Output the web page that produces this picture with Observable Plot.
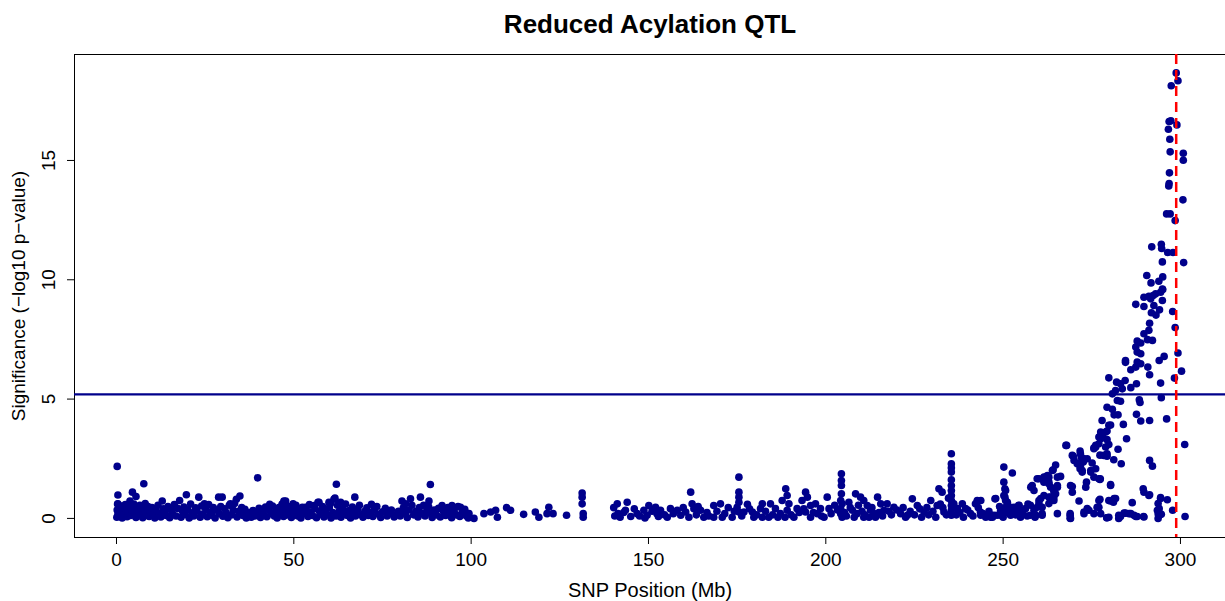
<!DOCTYPE html>
<html><head><meta charset="utf-8">
<script src="https://cdn.jsdelivr.net/npm/d3@7"></script>
<script src="https://cdn.jsdelivr.net/npm/@observablehq/plot@0.6"></script>
<style>body{margin:0;background:#fff;font-family:"Liberation Sans",Arial,sans-serif}</style>
</head><body><div id="chart"></div>
<script>
const title = "Reduced Acylation QTL";
const xLabel = "SNP Position (Mb)";
const yLabel = "Significance (\u2212log10 p\u2212value)";
const xTicks = [0, 50, 100, 150, 200, 250, 300];
const yTicks = [0, 5, 10, 15];
const threshold = 5.2;
const qtlPos = 298.8;

// [position (Mb), -log10 p]
const snpsA = [
[0.2,2.18],[0.4,0.98],[0.4,0.61],[4.5,1.10],[5.5,0.92],[7.7,1.45],[3.8,0.73],[12.9,0.73],[17.8,0.75],[19.7,0.99],[23.2,0.89],[24.8,0.61],[28.8,0.89],[29.8,0.89],[34.8,0.94],[33.8,0.8],[32.1,0.61],[39.8,1.70],[47.7,0.73],[43.2,0.59],[56.8,0.68],[61.3,0.8],[59.9,0.68],[62.0,1.43],[61.6,0.85],[47.2,0.73],[49.8,0.61],[46.7,0.54],[57.1,0.68],[55.7,0.54],[53.3,0.47],[60.3,0.61],[63.2,0.68],[67.2,0.89],[71.9,0.59],
[0.1,0.05],[0.2,0.35],[0.3,0.6],[0.4,0.18],[0.6,0.45],[0.9,0.1],[1.1,0.28],[1.4,0.52],[1.6,0.02],[1.9,0.33],[2.2,0.15],[2.5,0.58],[2.7,0.4],[3.0,0.07],[3.3,0.25],[3.6,0.48],[4.0,0.12],[4.3,0.36],[4.9,0.6],[5.2,0.2],[5.5,0.04],[5.9,0.42],[6.3,0.3],[6.6,0.55],[7.0,0.14],[7.4,0.03],[7.8,0.38],[8.1,0.62],[8.5,0.22],[8.9,0.5],[9.2,0.08],[9.6,0.3],[10.0,0.45],[10.4,0.15],[10.8,0.02],[11.2,0.33],[11.7,0.55],[12.1,0.19],[12.5,0.06],[13.2,0.4],[13.6,0.26],[14.0,0.12],[14.5,0.5],[15.0,0.03],[15.4,0.35],[15.8,0.2],[16.3,0.58],[16.8,0.1],[17.2,0.42],[18.2,0.05],[18.6,0.3],[19.0,0.48],[19.4,0.16],[20.1,0.36],[20.5,0.02],[20.9,0.6],[21.4,0.24],[21.8,0.1],[22.3,0.44],[22.7,0.3],[23.6,0.05],[24.0,0.52],[24.3,0.18],[25.2,0.38],[25.6,0.07],[26.0,0.58],[26.4,0.27],[26.9,0.13],[27.3,0.45],[27.8,0.02],[28.2,0.34],[29.0,0.2],[29.4,0.5],[30.0,0.09],[30.5,0.4],[30.9,0.25],[31.4,0.03],[31.8,0.55],[32.5,0.15],[32.9,0.35],[33.3,0.62],[34.0,0.06],[34.4,0.3],[35.3,0.46],[35.7,0.12],[36.2,0.38],[36.6,0.02],[37.1,0.25],[37.5,0.16],[38.0,0.05],[38.5,0.33],[39.0,0.1],[39.4,0.22],[40.2,0.42],[40.6,0.04],[41.0,0.3],[41.5,0.15],[42.0,0.48],[42.4,0.07],[42.8,0.36],[43.6,0.2],[44.0,0.52],[44.5,0.1],[44.9,0.33],[45.3,0.02],[45.8,0.45],[46.2,0.22],[46.7,0.6],[47.1,0.08],[47.4,0.38],[48.0,0.14],[48.4,0.5],[48.8,0.26],[49.3,0.04],[49.7,0.4],
[50.2,0.18],[50.6,0.55],[51.1,0.1],[51.5,0.32],[52.0,0.02],[52.4,0.47],[52.9,0.2],[53.5,0.36],[54.0,0.08],[54.4,0.58],[54.8,0.28],[55.3,0.12],[56.0,0.42],[56.4,0.03],[57.2,0.3],[57.6,0.18],[58.1,0.5],[58.5,0.06],[59.0,0.35],[59.4,0.15],[60.0,0.45],[60.5,0.02],[61.0,0.25],[61.9,0.1],[62.3,0.55],[62.8,0.3],[63.3,0.05],[63.7,0.4],[64.2,0.2],[64.6,0.6],[65.1,0.12],[65.6,0.33],[66.0,0.02],[66.5,0.48],[67.0,0.22],[67.4,0.1],[68.0,0.38],[68.5,0.55],[69.0,0.15],[69.5,0.05],[70.0,0.3],[70.6,0.44],[71.0,0.12],[71.4,0.25],[72.3,0.08],[72.7,0.35],[73.4,0.5],[73.8,0.18],[74.5,0.04],[75.0,0.28],[75.8,0.42],[76.3,0.1],[77.0,0.2],[77.5,0.35],[78.3,0.06],[78.8,0.15],[79.5,0.3],[80.0,0.1],[80.9,0.45],[81.4,0.22],[82.0,0.04],[82.5,0.35],[83.3,0.55],[83.8,0.15],[84.4,0.3],[85.0,0.06],[85.4,0.45],[86.0,0.2],[86.6,0.55],[87.0,0.1],[87.5,0.33],[88.0,0.5],[88.4,0.22],[89.0,0.04],[89.6,0.35],[90.2,0.15],[90.8,0.42],[91.3,0.06],[92.2,0.3],[92.8,0.12],[93.4,0.45],[94.0,0.2],[94.5,0.03],[95.2,0.32],[95.8,0.15],[96.3,0.5],[96.8,0.08],[97.5,0.25],[98.2,0.38],[98.7,0.1],[99.2,0.02]
];

const snpsB = [
[88.5,1.42],[85.7,0.89],[88.1,0.73],[80.5,0.73],[82.9,0.82],[81.5,0.61],[91.8,0.54],[94.6,0.54],[97.0,0.47],[99.4,0.20],[100.8,0.0],[103.6,0.20],[105.5,0.27],[106.9,0.34],[107.4,0.05],[110.0,0.45],[111.1,0.34],[114.8,0.17],[118.1,0.27],[119.1,0.05],[121.9,0.47],[121.4,0.20],[123.1,0.20],[126.9,0.13],[131.3,1.06],[131.3,0.89],[131.3,0.61],[131.6,0.05],[131.6,0.20],
[140.2,0.45],[141.2,0.61],[144.0,0.68],[143.5,0.34],[141.4,0.20],[146.8,0.20],[148.7,0.34],[150.1,0.54],[149.6,0.13],[152.0,0.47],[152.4,0.20],[153.4,0.34],[156.2,0.41],[158.1,0.34],[160.5,0.27],[161.9,1.10],[162.3,0.61],[162.8,0.41],[161.4,0.05],[159.1,0.13],[164.7,0.34],[165.6,0.05],[168.4,0.54],[170.3,0.61],[168.4,0.05],[170.8,0.05],
[175.5,1.73],[175.5,1.10],[175.5,0.89],[175.5,0.68],[175.0,0.47],[175.5,0.27],[173.6,0.05],[177.9,0.59],[176.9,0.27],[179.3,0.27],[181.6,0.41],[182.1,0.61],[184.4,0.61],[185.8,0.41],[183.9,0.05],[182.1,0.05],[179.7,0.05],[188.7,1.24],[189.1,0.96],[187.7,0.75],[189.6,0.61],[189.1,0.34],[187.2,0.20],[191.9,0.41],[191.0,0.05],[188.5,0.05],[194.3,1.10],[194.8,0.89],[193.3,0.75],[195.7,0.54],[197.1,0.61],[198.5,0.41],[197.6,0.20],[200.4,0.89],[200.9,0.41],[199.5,0.05],[195.7,0.05],[194.3,0.27],
[140.5,0.1],[142.0,0.05],[143.0,0.25],[145.0,0.08],[146.0,0.4],[147.5,0.1],[149.0,0.02],[151.0,0.3],[152.8,0.08],[154.5,0.15],[155.3,0.05],[157.0,0.2],[159.8,0.45],[163.5,0.15],[164.0,0.5],[166.5,0.25],[167.0,0.1],[169.3,0.3],[171.5,0.2],[172.5,0.45],[174.2,0.3],[176.3,0.1],[178.5,0.4],[180.5,0.15],[183.0,0.3],[185.0,0.15],[186.5,0.05],[190.2,0.15],[192.5,0.25],[193.8,0.4],[196.5,0.25],[198.8,0.1]
];

const snpsC = [
[204.4,1.87],[204.4,1.59],[204.4,1.38],[204.4,1.03],[204.2,0.75],[204.6,0.61],[204.2,0.41],[204.2,0.20],[204.6,0.05],[206.5,0.68],[207.5,0.34],[208.4,1.03],[209.8,0.89],[210.7,0.75],[211.7,0.54],[212.6,0.34],[213.6,0.20],[214.6,0.89],[215.5,0.61],[216.4,0.34],[208.0,0.05],[210.7,0.05],[212.2,0.05],[217.3,0.61],[219.2,0.47],[221.1,0.20],[223.0,0.13],[224.4,0.82],[225.8,0.54],[227.7,0.27],[229.6,0.75],[231.4,0.54],[231.9,1.24],[232.8,1.10],[233.3,0.27],
[235.4,2.71],[235.4,2.29],[235.4,2.12],[235.4,1.94],[235.4,1.62],[235.4,1.38],[235.4,1.17],[235.4,0.96],[235.4,0.75],[235.4,0.54],[235.4,0.34],[235.4,0.13],[236.1,0.61],[237.1,0.41],[238.5,0.61],[239.4,0.41],[240.8,0.20],[242.2,0.61],[242.7,0.75],[243.6,0.27],[245.1,0.05],[246.5,0.05],[247.7,0.82],
[250.2,2.15],[250.2,1.52],[250.7,1.17],[250.2,0.96],[250.7,0.75],[251.2,0.47],[251.6,0.27],[252.6,1.90],[252.1,0.47],[253.0,0.27],[254.4,0.54],[254.9,0.05],[248.3,0.13],[249.3,0.34],[250.5,1.24],[250.5,0.89],[251.2,0.68],[250.7,0.47],[251.6,0.34],[250.2,0.20],[252.1,0.13],[253.1,0.47],[254.0,0.34],[254.5,0.55],[254.9,0.20],[247.9,0.83],[243.7,0.75],[243.7,0.13],[245.5,0.13],[247.4,0.13],[249.3,0.13],
[201.5,0.2],[202.5,0.55],[203.3,0.35],[205.3,0.25],[205.8,0.1],[206.9,0.45],[208.8,0.2],[209.2,0.55],[210.2,0.3],[211.0,0.15],[213.0,0.45],[214.0,0.05],[215.0,0.25],[216.0,0.1],[217.8,0.3],[218.5,0.15],[220.0,0.35],[221.8,0.45],[222.5,0.05],[223.8,0.3],[225.0,0.15],[226.5,0.4],[227.0,0.05],[228.5,0.45],[229.0,0.15],[230.2,0.3],[231.0,0.05],[232.3,0.6],[233.0,0.45],[234.0,0.15],[234.6,0.85],[236.8,0.15],[237.8,0.25],[238.8,0.05],[240.0,0.35],[241.5,0.1],[243.0,0.45],[244.3,0.2],[246.0,0.3],[247.0,0.05],[249.0,0.5],[250.0,0.05],[253.5,0.15],[255.5,0.3],[256.8,0.1],[257.0,0.6],[259.0,0.05],
[258.2,1.38],[258.7,1.17],[260.1,1.66],[257.8,1.31],[259.6,1.66],[259.6,0.47],[257.7,0.13],[259.2,0.13],[256.3,0.41],[257.7,0.55],[258.7,0.34]
];

const snpsPeak = [
[298.8,18.67],[299.3,18.34],[297.4,18.13],[296.8,16.63],[297.3,16.66],[299.0,16.49],[296.6,16.31],[297.0,15.89],[297.1,15.36],[300.8,15.30],[300.8,15.01],[296.9,14.48],[296.8,14.03],[296.7,13.93],[300.7,13.35],[296.1,12.76],[297.1,12.76],[298.5,12.48],
[291.9,11.38],[294.6,11.49],[294.7,11.31],[296.4,11.14],[297.9,11.14],[294.9,10.75],[300.9,10.72],[290.5,10.18],[291.7,9.87],[293.9,9.94],[295.0,10.12],[294.9,9.61],[295.0,9.59],[294.4,9.48],[293.0,9.41],[292.3,9.34],[291.1,9.31],[289.7,9.27],[291.6,9.20],[294.9,9.13],[287.4,8.97],[289.7,8.88],[292.5,8.92],[294.1,8.74],[297.8,8.67],[291.8,8.62],[293.1,8.52],[298.5,8.00],[291.3,8.18],[289.7,7.74],[291.1,7.88],[292.1,7.46],[290.7,7.49],[287.8,7.43],[288.8,7.35],[287.4,7.18],[287.8,6.97],[288.8,6.90],[299.3,6.93],[295.4,6.79],[294.0,6.62],[284.5,6.62],[284.5,6.54],[286.0,6.23],[287.4,6.34],[287.8,6.55],[288.8,6.48],[290.8,6.34],[291.3,6.02],[300.3,6.17],[298.3,5.88],
[279.8,5.89],[282.0,5.71],[284.4,5.78],[283.1,5.64],[287.6,5.64],[286.0,5.48],[294.4,5.67],[281.7,5.36],[280.8,5.22],[283.6,5.43],[282.2,4.94],[283.1,4.91],[288.4,4.97],[288.6,4.86],[294.6,5.06],[279.3,4.66],[280.8,4.57],[281.3,4.34],[282.4,4.34],[287.6,4.36],[288.8,4.08],[291.3,4.10],[296.1,4.17],[277.9,4.10],[280.3,3.91],[283.9,3.94],[279.8,3.90],[277.5,3.62],[279.3,3.66],[278.9,3.62],[278.0,3.55],[277.0,3.41],[278.0,3.48],[279.3,3.30],[279.8,3.10],[278.9,2.99],[282.4,2.90],[284.8,3.34],[277.5,3.34],[277.0,3.13],[276.1,3.06],[275.6,2.96],[276.1,2.99],[275.6,2.92],[301.2,3.10],[267.7,3.06],[267.9,3.06],
[271.7,2.82],[271.8,2.71],[269.8,2.60],[269.5,2.64],[272.0,2.57],[272.8,2.50],[277.3,2.65],[278.4,2.64],[279.3,2.61],[279.3,2.71],[281.2,2.46],[283.3,2.29],[291.3,2.43],[292.1,2.19],[270.0,2.43],[271.4,2.32],[272.6,2.36],[273.7,2.50],[275.1,2.32],[270.9,2.29],[271.8,2.15],[272.3,1.94],[271.7,2.08],[272.3,2.01],[274.7,2.01],[276.1,2.08],[264.8,2.24],[264.1,2.04],[263.9,2.01],[265.3,1.73],[266.2,1.76],[262.9,1.73],[261.5,1.73],[262.0,1.73],[262.5,1.80],[274.7,1.94],[275.6,1.73],[277.3,1.63],[277.0,1.66],[277.4,1.66],[273.5,1.52],[273.3,1.31],[269.5,1.34],[269.0,1.38],[269.5,1.10],[280.3,1.42],[280.3,1.38],[289.5,1.24],[289.7,1.10],[291.3,0.99],[291.1,0.96],
[263.4,1.31],[264.3,1.14],[261.5,0.96],[264.8,1.03],[265.3,1.38],[265.3,1.31],[262.9,1.45],[261.5,1.52],[262.9,1.52],[264.3,0.87],[263.4,0.89],[262.9,0.89],[264.3,0.75],[271.4,0.73],[277.3,0.80],[277.0,0.75],[280.3,0.73],[281.7,0.83],[281.3,0.83],[281.1,0.68],[279.8,0.75],[286.4,0.66],[294.4,0.83],[294.4,0.87],[296.3,0.78],[293.7,0.62],[273.7,0.41],[272.8,0.27],[272.8,0.20],[275.6,0.20],[277.0,0.47],[276.5,0.47],[274.2,0.34],[284.1,0.22],[284.5,0.22],[285.5,0.20],[286.0,0.20],[286.9,0.13],[287.4,0.08],[287.8,0.08],[283.1,0.08],[289.7,0.06],[289.6,0.08],[293.5,0.34],[294.0,0.41],[294.0,0.13],[293.7,0.20],[294.6,0.17],[293.7,0.0],[297.8,0.34],[301.3,0.08],[279.3,0.03],[279.2,0.03],[279.8,0.05],[282.6,0.0],[282.6,0.13],[277.5,0.20],[268.9,0.20],[268.9,0.01],[269.0,0.0],[268.9,0.13],[265.3,0.20],[261.0,0.20],[260.6,0.83],[260.1,0.62],[261.0,0.47],[262.9,0.62],[261.0,0.13],[260.1,0.75]
];

const snps = [...snpsA, ...snpsB, ...snpsC, ...snpsPeak].map(([pos, sig]) => ({pos, sig}));

const font = "Liberation Sans, Arial, Helvetica, sans-serif";
const chart = Plot.plot({
  width: 1225,
  height: 601,
  marginTop: 54,
  marginBottom: 64,
  marginLeft: 74,
  marginRight: 0,
  style: {fontFamily: font, fontSize: "19px", background: "#fff", color: "#000"},
  x: {domain: [-11.84, 312.7]},
  y: {domain: [-0.8, 19.44]},
  marks: [
    Plot.frame({stroke: "#000", strokeWidth: 1}),
    Plot.axisX({ticks: xTicks, tickSize: 7, tickPadding: 8, fontSize: 19, label: null, tickFormat: d => String(d)}),
    Plot.axisY({ticks: yTicks, tickSize: 7, tickPadding: 13, tickRotate: -90, fontSize: 19, label: null, tickFormat: d => String(d)}),
    Plot.ruleY([threshold], {stroke: "#00008B", strokeWidth: 2.2}),
    Plot.dot(snps, {x: "pos", y: "sig", r: 3.8, fill: "#00008B", stroke: "none"}),
    Plot.ruleX([qtlPos], {stroke: "#FF0000", strokeWidth: 2.5, strokeDasharray: "10,6"}),
    Plot.text([title], {frameAnchor: "top", dy: -30, fontSize: 26, fontWeight: "bold", lineAnchor: "middle"}),
    Plot.text([xLabel], {frameAnchor: "bottom", dy: 53, fontSize: 20, lineAnchor: "middle"}),
    Plot.text([yLabel], {frameAnchor: "left", dx: -56, rotate: -90, fontSize: 19, lineAnchor: "middle", textAnchor: "middle"})
  ]
});
document.getElementById("chart").appendChild(chart);
</script>
</body></html>
